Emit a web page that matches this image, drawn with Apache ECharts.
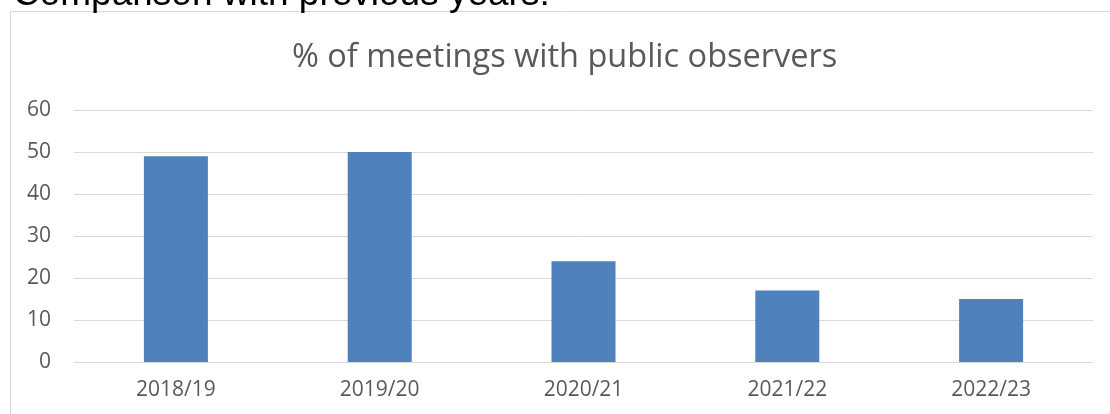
<!DOCTYPE html>
<html>
<head>
<meta charset="utf-8">
<script src="https://cdn.jsdelivr.net/npm/echarts@6/dist/echarts.min.js"></script>
<style>
  html, body { margin: 0; padding: 0; background: #fff; }
  #chart { width: 1110px; height: 414px; }
</style>
</head>
<body>
<div id="chart"></div>
<script>
// data
const categories = ["2018/19", "2019/20", "2020/21", "2021/22", "2022/23"];
const percentWithObservers = [49, 50, 24, 17, 15];
const yTicks = [0, 10, 20, 30, 40, 50, 60];

const chart = echarts.init(document.getElementById("chart"));
const option = {
  animation: false,
  graphic: [
    {
      // outer chart box (runs off the right and bottom edges)
      type: "rect",
      shape: { x: 10.5, y: 11.5, width: 1200, height: 500 },
      style: { fill: "none", stroke: "#D9D9D9", lineWidth: 1 }
    },
    {
      type: "text",
      left: 13,
      top: -24,
      style: {
        text: "Comparison with previous years:",
        font: "37px 'Liberation Sans', Arial, sans-serif",
        fill: "#000"
      }
    }
  ],
  title: {
    text: "% of meetings with public observers",
    left: 287,
    top: 36,
    textStyle: {
      fontFamily: "Open Sans",
      fontWeight: "normal",
      fontSize: 32.5,
      color: "#595959"
    }
  },
  grid: { left: 74, right: 17, top: 110, bottom: 52 },
  xAxis: {
    type: "category",
    data: categories,
    axisLine: { lineStyle: { color: "#D9D9D9", width: 1 } },
    axisTick: { show: false },
    axisLabel: {
      color: "#595959",
      fontFamily: "Open Sans",
      fontSize: 21,
      margin: 18
    }
  },
  yAxis: {
    type: "value",
    min: yTicks[0],
    max: yTicks[yTicks.length - 1],
    interval: 10,
    axisLine: { show: false },
    axisTick: { show: false },
    splitLine: { lineStyle: { color: "#D9D9D9", width: 1 } },
    axisLabel: {
      color: "#595959",
      fontFamily: "Open Sans",
      fontSize: 21,
      margin: 23
    }
  },
  series: [
    {
      type: "bar",
      data: percentWithObservers,
      barWidth: 64,
      itemStyle: { color: "#4F81BD" }
    }
  ]
};
chart.setOption(option);
</script>
</body>
</html>
